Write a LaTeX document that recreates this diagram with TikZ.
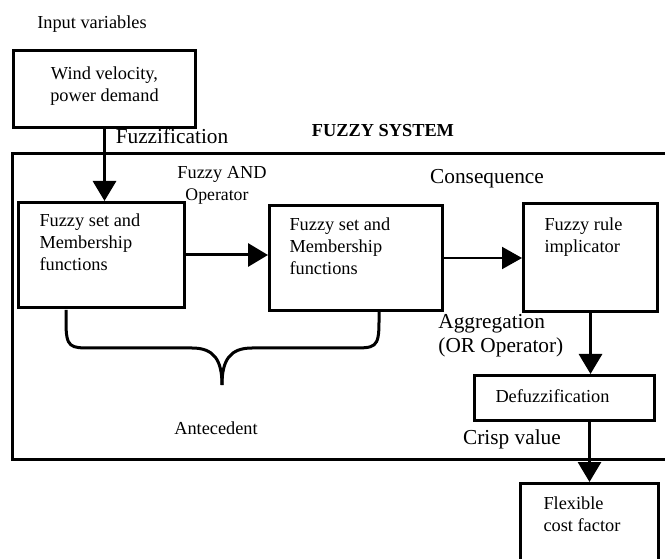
\documentclass[tikz,border=0pt]{standalone}
\usepackage{fontspec}
\setmainfont{Liberation Serif}
\usetikzlibrary{arrows.meta,positioning}
\newcommand{\boxtext}[3]{\parbox[t][#2][t]{#1}{#3}}

\begin{document}
\begin{tikzpicture}[x=0.5bp,y=-0.5bp,
  blk/.style={draw,line width=1.5bp,inner sep=0pt,anchor=north west,
              font=\fontsize{9.2}{11.2}\selectfont},
  txt/.style={font=\fontsize{9.2}{11.2}\selectfont,inner sep=0pt,anchor=base},
  bigtxt/.style={font=\fontsize{10.7}{12}\selectfont,inner sep=0pt,anchor=base},
  frame/.style={line width=1.5bp},
  arr/.style={-{Triangle[length=10bp,width=11.5bp]},line width=1.5bp},
  thinarr/.style={-{Triangle[length=10bp,width=11bp]},line width=1bp}
]
\path[use as bounding box] (0,0) rectangle (665,559);
\clip (0,0) rectangle (665,559);

%--- Input block ---
\node[txt] (inputlbl) at (92,29) {Input variables};
\node[blk,inner xsep=0pt,inner ysep=8bp] (wind) at (12,49)
  {\boxtext{91bp}{22.5bp}{\centering Wind velocity,\\power demand\par}};
\node[bigtxt] (fuzzlbl) at (172,144) {Fuzzification};

%--- Fuzzy system frame (open to the right) ---
\draw[frame] (672,154) -- (12,154) -- (12,459) -- (672,459);
\node[txt,font=\fontsize{9.2}{11.2}\selectfont\bfseries] (syslbl) at (383,137) {FUZZY SYSTEM};

%--- Antecedent part ---
\node[blk,inner xsep=10.5bp,inner ysep=5.5bp] (fs1) at (17,201)
  {\boxtext{62bp}{41.5bp}{Fuzzy set and\\Membership\\functions}};
\node[blk,inner xsep=10bp,inner ysep=6bp] (fs2) at (268,204)
  {\boxtext{66.5bp}{40.5bp}{Fuzzy set and\\Membership\\functions}};
\node[txt] (andlbl) at (222,179) {Fuzzy AND};
\node[txt,font=\fontsize{8.9}{11}\selectfont] (oplbl) at (217,201) {Operator};
% brace under both sets
\draw[frame] (66,310) -- (66,322) .. controls (66,348) and (70,348) .. (92,348)
  -- (192,348) .. controls (214,348) and (222,360) .. (222,385);
\draw[frame] (379,310) -- (379,322) .. controls (379,348) and (375,348) .. (352,348)
  -- (252,348) .. controls (230,348) and (222,360) .. (222,385);
\node[txt] (antlbl) at (216,434) {Antecedent};

%--- Consequence part ---
\node[bigtxt] (conlbl) at (487,184) {Consequence};
\node[blk,inner xsep=10.5bp,inner ysep=7bp] (impl) at (522,202)
  {\boxtext{46bp}{40bp}{Fuzzy rule\\implicator}};
\node[bigtxt,anchor=north west,align=left] (agglbl) at (438,314)
  {Aggregation\\(OR Operator)};
\node[blk,inner xsep=10.5bp,inner ysep=7bp] (defuzz) at (473,374)
  {\boxtext{69bp}{8.5bp}{Defuzzification}};
\node[bigtxt] (crisplbl) at (512,444) {Crisp value};

%--- Output block ---
\node[blk,inner xsep=11.5bp,inner ysep=6.5bp] (flex) at (519,482)
  {\boxtext{46bp}{46bp}{Flexible\\cost factor}};

%--- Connectors ---
\draw[arr] (wind.south) -- (wind.south |- fs1.north);
\draw[arr] (fs1.east) -- (fs1.east -| fs2.west);
\draw[thinarr] (fs2.east) -- (fs2.east -| impl.west);
\draw[arr] (impl.south) -- (impl.south |- defuzz.north);
\draw[arr] (flex.north |- defuzz.south) -- (flex.north);
\end{tikzpicture}
\end{document}
